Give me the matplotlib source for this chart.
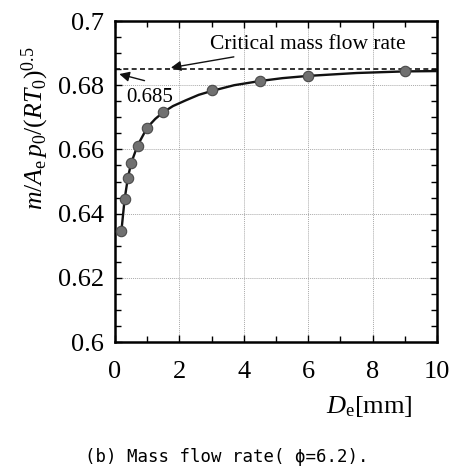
import matplotlib as mpl
import matplotlib.pyplot as plt
from matplotlib.ticker import MultipleLocator

# measured points
d_e = [0.2, 0.3, 0.4, 0.5, 0.7, 1.0, 1.5, 3.0, 4.5, 6.0, 9.0]
flow = [0.6347, 0.6446, 0.6511, 0.6557, 0.6612, 0.6668, 0.6716, 0.6785, 0.6813, 0.6829, 0.6845]

# fitted curve
curve_x = [0.2, 0.3, 0.4, 0.5, 0.7, 1.0, 1.25, 1.5, 1.8, 2.2, 2.6, 3.0, 3.7, 4.5, 5.2, 6.0, 7.5, 9.0, 10.0]
curve_y = [0.6347, 0.6446, 0.6511, 0.6557, 0.6612, 0.6668, 0.6695, 0.6716, 0.6735, 0.6753, 0.6770, 0.6782,
           0.6800, 0.6813, 0.6822, 0.6829, 0.6838, 0.6843, 0.6844]

critical = 0.685

mpl.rcParams['font.family'] = ['Liberation Serif', 'DejaVu Serif']
mpl.rcParams['mathtext.fontset'] = 'custom'
mpl.rcParams['mathtext.rm'] = 'Liberation Serif'
mpl.rcParams['mathtext.it'] = 'Liberation Serif:italic'

fig = plt.figure(figsize=(4.54, 4.72), dpi=100)
ax = fig.add_axes([0.2533, 0.2754, 0.7093, 0.6801])

ax.plot(curve_x, curve_y, color='#111111', lw=1.7, zorder=3)
ax.plot(d_e, flow, 'o', color='#707070', mec='#4a4a4a', mew=0.8, ms=7.5, zorder=4)
ax.axhline(critical, color='#111111', ls=(0, (3, 2)), lw=1.2, zorder=2)

ax.annotate('Critical mass flow rate', xy=(1.65, 0.6853), xytext=(2.95, 0.6928),
            fontsize=15.5, va='center', ha='left',
            arrowprops=dict(arrowstyle='-|>', color='#111111', lw=1.0, mutation_scale=15))
ax.annotate('', xy=(0.05, 0.6837), xytext=(1.0, 0.6812),
            arrowprops=dict(arrowstyle='-|>', color='#111111', lw=1.0, mutation_scale=15))
ax.text(0.35, 0.6762, '0.685', fontsize=15, va='center', ha='left')

ax.set_xlim(0, 10)
ax.set_ylim(0.6, 0.7)
ax.xaxis.set_major_locator(MultipleLocator(2))
ax.xaxis.set_minor_locator(MultipleLocator(1))
ax.yaxis.set_minor_locator(MultipleLocator(0.005))
ax.set_yticks([0.6, 0.62, 0.64, 0.66, 0.68, 0.7])
ax.set_yticklabels(['0.6', '0.62', '0.64', '0.66', '0.68', '0.7'])

ax.tick_params(which='both', direction='in', top=True, right=True, labelsize=19, width=1.0)
ax.tick_params(which='major', length=5)
ax.tick_params(axis='x', which='major', pad=14)
ax.tick_params(axis='y', which='major', pad=8)
ax.tick_params(which='minor', length=4)
ax.grid(True, which='major', color='#aaaaaa', lw=0.7, ls=(0, (1, 1)))
for s in ax.spines.values():
    s.set_linewidth(1.8)

ax.set_ylabel(r'$m/A_{\rm e}\,p_0/(RT_0)^{0.5}$', fontsize=18.5)
ax.yaxis.set_label_coords(-0.2, 0.665)
fig.text(0.91, 0.112, r'$D_{\rm e}$[mm]', fontsize=19, ha='right', va='bottom')

fig.text(0.5, 0.012, '(b) Mass flow rate( \u03d5=6.2).', fontsize=12.5,
         family=['DejaVu Sans Mono'], ha='center', va='bottom')

plt.savefig('out.png', dpi=100)
plt.close()
